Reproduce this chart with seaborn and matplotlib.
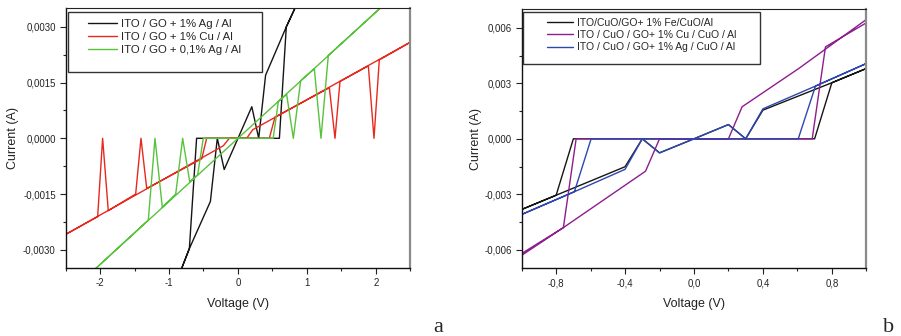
import numpy as np
import pandas as pd
import matplotlib
matplotlib.use("Agg")
import matplotlib.pyplot as plt
import seaborn as sns
from matplotlib.ticker import AutoMinorLocator, FixedLocator
from matplotlib.patches import Rectangle
from matplotlib.lines import Line2D

# ---------------- Panel a data (sweep order) ----------------
a_labels = ["ITO / GO + 1% Ag / Al", "ITO / GO + 1% Cu / Al", "ITO / GO + 0,1% Ag / Al"]
a_colors = ["#151515", "#E8281E", "#58C23C"]

a_ag1_v = [0.0, 0.2, 0.3, 0.4, 0.7, 0.9, 0.7, 0.6, -0.6, -0.705, -0.9, -0.705, -0.4, -0.3, -0.2, 0.0]
a_ag1_i = [0.0, 0.00085, 0.0, 0.0017, 0.003, 0.0038, 0.003, 0.0, 0.0, -0.00297, -0.0039, -0.00297,
           -0.0017, 0.0, -0.00084, 0.0]

a_cu1_v = [-2.5, -2.034, -1.962, -1.88, -1.483, -1.406, -1.323, -0.526, -0.454, 0.454, 0.536,
           1.324, 1.406, 1.478, 1.889, 1.971, 2.048, 2.5,
           0.213, 0.126, -0.126, -0.212, -2.5]
a_cu1_i = [-0.00259, -0.00211, 0.0, -0.00195, -0.0015, 0.0, -0.00135, -0.00055, 0.0, 0.0, 0.00057,
           0.00136, 0.0, 0.00153, 0.00195, 0.0, 0.00211, 0.00259,
           0.00023, 0.0, 0.0, -0.0002, -0.00259]

a_ag01_v = [-2.1, -1.3, -1.203, -1.097, -0.903, -0.802, -0.7, -0.585, -0.503, 0.51, 0.585, 0.705,
            0.802, 0.908, 1.106, 1.203, 1.309, 2.1, 0.0, -2.1]
a_ag01_i = [-0.00357, -0.0022, 0.0, -0.00186, -0.0015, 0.0, -0.00117, -0.00098, 0.0, 0.0, 0.00099,
            0.00118, 0.0, 0.00155, 0.00187, 0.0, 0.00223, 0.00357, 0.0, -0.00357]

a_xticks = [-2, -1, 0, 1, 2]
a_xticklabels = ["-2", "-1", "0", "1", "2"]
a_yticks = [-0.003, -0.0015, 0.0, 0.0015, 0.003]
a_yticklabels = ["-0,0030", "-0,0015", "0,0000", "0,0015", "0,0030"]

# ---------------- Panel b data (sweep order) ----------------
b_labels = ["ITO/CuO/GO+ 1% Fe/CuO/Al", "ITO / CuO / GO+ 1% Cu / CuO / Al", "ITO / CuO / GO+ 1% Ag / CuO / Al"]
b_colors = ["#151515", "#8E1D8E", "#2F47B0"]

b_fe_v = [-1.0, -0.8, -0.7, 0.7, 0.8, 1.0, 0.8, 0.4, 0.3, 0.2, 0.0, -0.2, -0.3, -0.4, -0.8, -1.0]
b_fe_i = [-0.00382, -0.00305, 0.0, 0.0, 0.00303, 0.0038, 0.00303, 0.00155, 0.0, 0.00077, 0.0,
          -0.00076, 0.0, -0.00151, -0.00305, -0.00382]

b_cu_v = [-1.0, -0.758, -0.684, 0.686, 0.763, 1.0, 1.0, 0.608, 0.279, 0.2, -0.2, -0.281, -0.758, -1.0]
b_cu_i = [-0.0062, -0.0048, 0.0, 0.0, 0.00497, 0.00627, 0.00645, 0.0038, 0.00173, 0.0, 0.0,
          -0.00175, -0.0048, -0.0063]

b_ag_v = [-1.0, -0.694, -0.597, 0.605, 0.705, 1.0, 0.705, 0.4, 0.3, 0.2, 0.0, -0.2, -0.3, -0.4, -0.694, -1.0]
b_ag_i = [-0.00409, -0.00286, 0.0, 0.0, 0.00285, 0.00407, 0.00285, 0.00162, 0.0, 0.00077, 0.0,
          -0.00076, 0.0, -0.00165, -0.00286, -0.00409]

b_xticks = [-0.8, -0.4, 0.0, 0.4, 0.8]
b_xticklabels = ["-0,8", "-0,4", "0,0", "0,4", "0,8"]
b_yticks = [-0.006, -0.003, 0.0, 0.003, 0.006]
b_yticklabels = ["-0,006", "-0,003", "0,000", "0,003", "0,006"]


def make_df(vs, is_, labels):
    frames = []
    for v, i, lab in zip(vs, is_, labels):
        frames.append(pd.DataFrame({"V": v, "I": i, "series": lab, "order": np.arange(len(v))}))
    return pd.concat(frames, ignore_index=True)


df_a = make_df([a_ag1_v, a_cu1_v, a_ag01_v], [a_ag1_i, a_cu1_i, a_ag01_i], a_labels)
df_b = make_df([b_fe_v, b_cu_v, b_ag_v], [b_fe_i, b_cu_i, b_ag_i], b_labels)

sns.set_style("ticks")
plt.rcParams["font.family"] = ["Liberation Sans", "DejaVu Sans"]

fig = plt.figure(figsize=(9.01, 3.36), dpi=100)
axa = fig.add_axes([0.0727, 0.2015, 0.3829, 0.7738])
axb = fig.add_axes([0.5790, 0.2015, 0.3825, 0.7708])


def style_axes(ax, xlim, ylim, xt, xtl, yt, ytl, ylpad):
    ax.set_xlim(*xlim)
    ax.set_ylim(*ylim)
    ax.xaxis.set_major_locator(FixedLocator(xt))
    ax.set_xticklabels(xtl)
    ax.yaxis.set_major_locator(FixedLocator(yt))
    ax.set_yticklabels(ytl)
    ax.xaxis.set_minor_locator(AutoMinorLocator(2))
    ax.yaxis.set_minor_locator(AutoMinorLocator(2))
    ax.tick_params(which="both", direction="out", top=False, right=False,
                   labelsize=6.9, width=0.8, colors="#222222")
    ax.tick_params(which="major", length=4.5, pad=2.5)
    ax.tick_params(which="minor", length=2.5)
    ax.set_xlabel("Voltage (V)", fontsize=9, labelpad=7, color="#222222")
    ax.set_ylabel("Current (A)", fontsize=9, labelpad=ylpad, color="#222222")
    for s in ["left", "bottom"]:
        ax.spines[s].set_color("#111111")
        ax.spines[s].set_linewidth(1.0)
    ax.spines["top"].set_color("#222222")
    ax.spines["top"].set_linewidth(0.8)
    ax.spines["right"].set_color("#8a8a8a")
    ax.spines["right"].set_linewidth(1.6)


for ax, df, labels, colors in [(axa, df_a, a_labels, a_colors), (axb, df_b, b_labels, b_colors)]:
    sns.lineplot(data=df, x="V", y="I", hue="series", hue_order=labels,
                 palette=dict(zip(labels, colors)), sort=False, estimator=None,
                 units="series", legend=False, linewidth=1.0, ax=ax)

style_axes(axa, (-2.5, 2.5), (-0.0035, 0.0035), a_xticks, a_xticklabels, a_yticks, a_yticklabels, 3.0)
style_axes(axb, (-1.0, 1.0), (-0.007, 0.007), b_xticks, b_xticklabels, b_yticks, b_yticklabels, 2.0)

# Legends (Origin style box)
axa.add_patch(Rectangle((0.0081, 0.7562), 0.5623, 0.2307, transform=axa.transAxes,
                        facecolor="white", edgecolor="#333333", linewidth=1.0, zorder=4))
ha = [Line2D([], [], color=c, lw=1.0) for c in a_colors]
lga = axa.legend(ha, a_labels, loc="upper left", bbox_to_anchor=(0.0643, 0.959), frameon=False,
                 borderpad=0, borderaxespad=0, handlelength=2.6, handletextpad=0.3,
                 labelspacing=0.28, fontsize=8.2)
lga.set_zorder(5)

axb.add_patch(Rectangle((0.0046, 0.7876), 0.6869, 0.2031, transform=axb.transAxes,
                        facecolor="white", edgecolor="#333333", linewidth=1.0, zorder=4))
hb = [Line2D([], [], color=c, lw=1.0) for c in b_colors]
lgb = axb.legend(hb, b_labels, loc="upper left", bbox_to_anchor=(0.0725, 0.967), frameon=False,
                 borderpad=0, borderaxespad=0, handlelength=2.56, handletextpad=0.33,
                 labelspacing=0.22, fontsize=7.5)
lgb.set_zorder(5)

fig.text(438 / 901, 4 / 336, "a", family="Liberation Serif", fontsize=16, ha="center", va="baseline")
fig.text(889 / 901, 4 / 336, "b", family="Liberation Serif", fontsize=16, ha="center", va="baseline")

fig.savefig("out.png", dpi=100)
